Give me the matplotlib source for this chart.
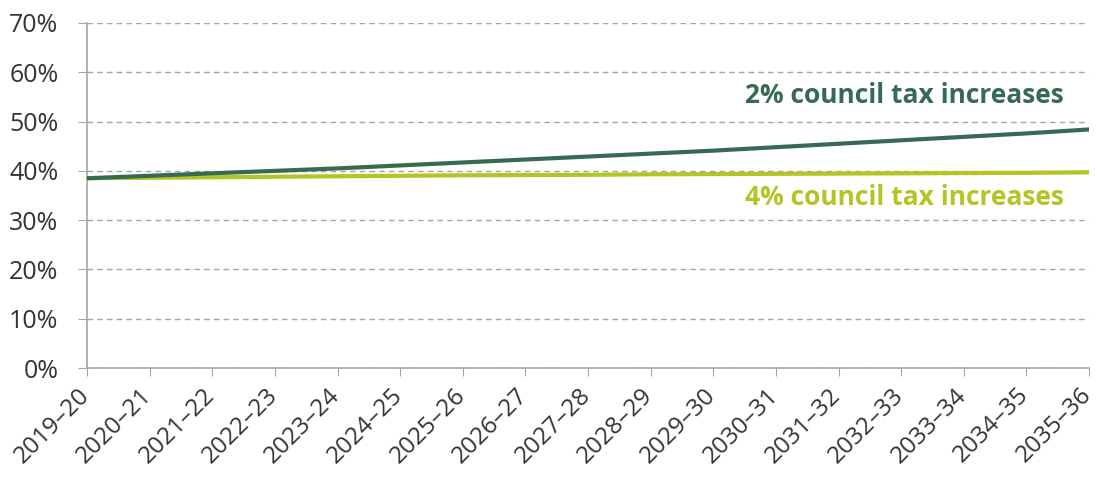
import matplotlib
matplotlib.use("Agg")
import matplotlib.pyplot as plt
from matplotlib.ticker import FuncFormatter
from matplotlib.transforms import ScaledTranslation

plt.rcParams['font.family'] = ['Open Sans', 'DejaVu Sans']

years = ["2019–20", "2020–21", "2021–22", "2022–23", "2023–24", "2024–25", "2025–26",
         "2026–27", "2027–28", "2028–29", "2029–30", "2030–31", "2031–32", "2032–33",
         "2033–34", "2034–35", "2035–36"]
ct2 = [38.5, 39.0, 39.5, 40.0, 40.5, 41.1, 41.7, 42.3, 42.9, 43.5, 44.1, 44.8, 45.5,
       46.2, 46.9, 47.6, 48.4]
ct4 = [38.5, 38.6, 38.7, 38.8, 38.9, 39.0, 39.1, 39.15, 39.2, 39.3, 39.35, 39.4, 39.45,
       39.5, 39.55, 39.6, 39.7]
yticks = [0, 10, 20, 30, 40, 50, 60, 70]

dark = '#356B50'
light = '#B3C423'

fig = plt.figure(figsize=(10.97, 4.83), dpi=100)
ax = fig.add_axes([87/1097, 1-368/483, (1089-87)/1097, (368-23)/483])

x = list(range(len(years)))
ax.plot(x, ct4, color=light, lw=3.0, solid_capstyle='round', zorder=3)
ax.plot(x, ct2, color=dark, lw=3.0, solid_capstyle='round', zorder=4)

ax.set_xlim(0, len(years)-1)
ax.set_ylim(0, 70)
ax.set_yticks(yticks)
ax.yaxis.set_major_formatter(FuncFormatter(lambda v, p: f"{int(v)}%"))
ax.set_xticks(x)
ax.set_xticklabels(years, rotation=45, ha='right', rotation_mode='anchor')

ax.grid(axis='y', color='#A6A6A6', linestyle=(0, (4, 3)), lw=1)
ax.set_axisbelow(True)
for s in ['top', 'right']:
    ax.spines[s].set_visible(False)
for s in ['left', 'bottom']:
    ax.spines[s].set_color('#A6A6A6')
    ax.spines[s].set_linewidth(1.2)
ax.tick_params(axis='y', length=6.5, color='#A6A6A6', labelsize=18, labelcolor='#333333', pad=14)
ax.tick_params(axis='x', length=6, color='#A6A6A6', labelsize=17.5, labelcolor='#333333', pad=5)

offset = ScaledTranslation(-6.8/72, 0, fig.dpi_scale_trans)
for lbl in ax.get_xticklabels():
    lbl.set_transform(lbl.get_transform() + offset)

ax.text(15.6, 55.2, "2% council tax increases", color=dark, fontsize=19, fontweight='bold',
        ha='right', va='center')
ax.text(15.6, 34.5, "4% council tax increases", color=light, fontsize=19, fontweight='bold',
        ha='right', va='center')

fig.savefig("out.png", dpi=100)
